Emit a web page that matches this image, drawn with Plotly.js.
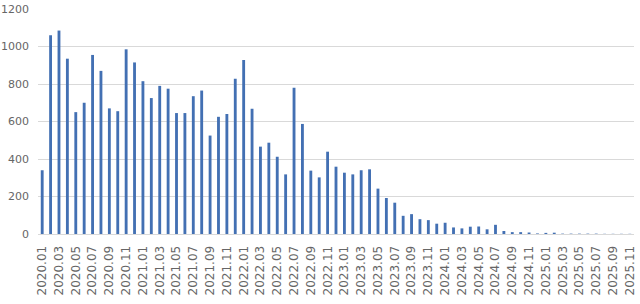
<!DOCTYPE html>
<html>
<head>
<meta charset="utf-8">
<script src="https://cdn.plot.ly/plotly-3.0.1.min.js"></script>
<style>html,body{margin:0;padding:0;background:#fff;}#chart{width:640px;height:304px;}</style>
</head>
<body>
<div id="chart"></div>
<script>
var months = [
"2020.01","2020.02","2020.03","2020.04","2020.05","2020.06","2020.07","2020.08","2020.09","2020.10","2020.11","2020.12",
"2021.01","2021.02","2021.03","2021.04","2021.05","2021.06","2021.07","2021.08","2021.09","2021.10","2021.11","2021.12",
"2022.01","2022.02","2022.03","2022.04","2022.05","2022.06","2022.07","2022.08","2022.09","2022.10","2022.11","2022.12",
"2023.01","2023.02","2023.03","2023.04","2023.05","2023.06","2023.07","2023.08","2023.09","2023.10","2023.11","2023.12",
"2024.01","2024.02","2024.03","2024.04","2024.05","2024.06","2024.07","2024.08","2024.09","2024.10","2024.11","2024.12",
"2025.01","2025.02","2025.03","2025.04","2025.05","2025.06","2025.07","2025.08","2025.09","2025.10","2025.11"
];
var values = [
340,1060,1085,935,650,700,955,870,670,655,985,915,
815,725,790,775,645,645,735,765,525,625,640,828,
928,668,466,487,412,318,780,587,338,302,439,359,
327,318,340,345,242,192,167,97,106,79,74,55,
60,35,30,39,40,25,49,16,10,10,8,3,
6,7,2,2,2,2,2,1,1,1,1
];
var tickLabels = [
"2020.01","2020.03","2020.05","2020.07","2020.09","2020.11",
"2021.01","2021.03","2021.05","2021.07","2021.09","2021.11",
"2022.01","2022.03","2022.05","2022.07","2022.09","2022.11",
"2023.01","2023.03","2023.05","2023.07","2023.09","2023.11",
"2024.01","2024.03","2024.05","2024.07","2024.09","2024.11",
"2025.01","2025.03","2025.05","2025.07","2025.09","2025.11"
];
var yTicks = [0,200,400,600,800,1000,1200];

Plotly.newPlot('chart', [{
  type: 'bar',
  x: months,
  y: values,
  marker: {color: '#4370b3'},
  hoverinfo: 'x+y'
}], {
  width: 640, height: 304,
  margin: {l: 38, r: 6, t: 9, b: 70},
  paper_bgcolor: '#fff', plot_bgcolor: '#fff',
  bargap: 0.66,
  showlegend: false,
  font: {family: 'DejaVu Sans, sans-serif', color: '#595959'},
  xaxis: {
    type: 'category',
    range: [-0.5, 70.5],
    tickmode: 'array',
    tickvals: tickLabels,
    ticktext: tickLabels,
    tickangle: -90,
    tickfont: {size: 12, color: '#666666'},
    showgrid: false,
    showline: true,
    linecolor: '#d9d9d9',
    linewidth: 1,
    ticks: '',
    ticklen: 0,
    ticklabelstandoff: 6,
    zeroline: false
  },
  yaxis: {
    range: [0, 1200],
    tickmode: 'array',
    tickvals: yTicks,
    ticktext: yTicks.map(String),
    tickfont: {size: 11, color: '#666666'},
    showgrid: true,
    gridcolor: '#d9d9d9',
    gridwidth: 1,
    zeroline: false,
    showline: false,
    ticks: '',
    ticklabelstandoff: 8
  }
}, {displayModeBar: false, staticPlot: true});
</script>
</body>
</html>
